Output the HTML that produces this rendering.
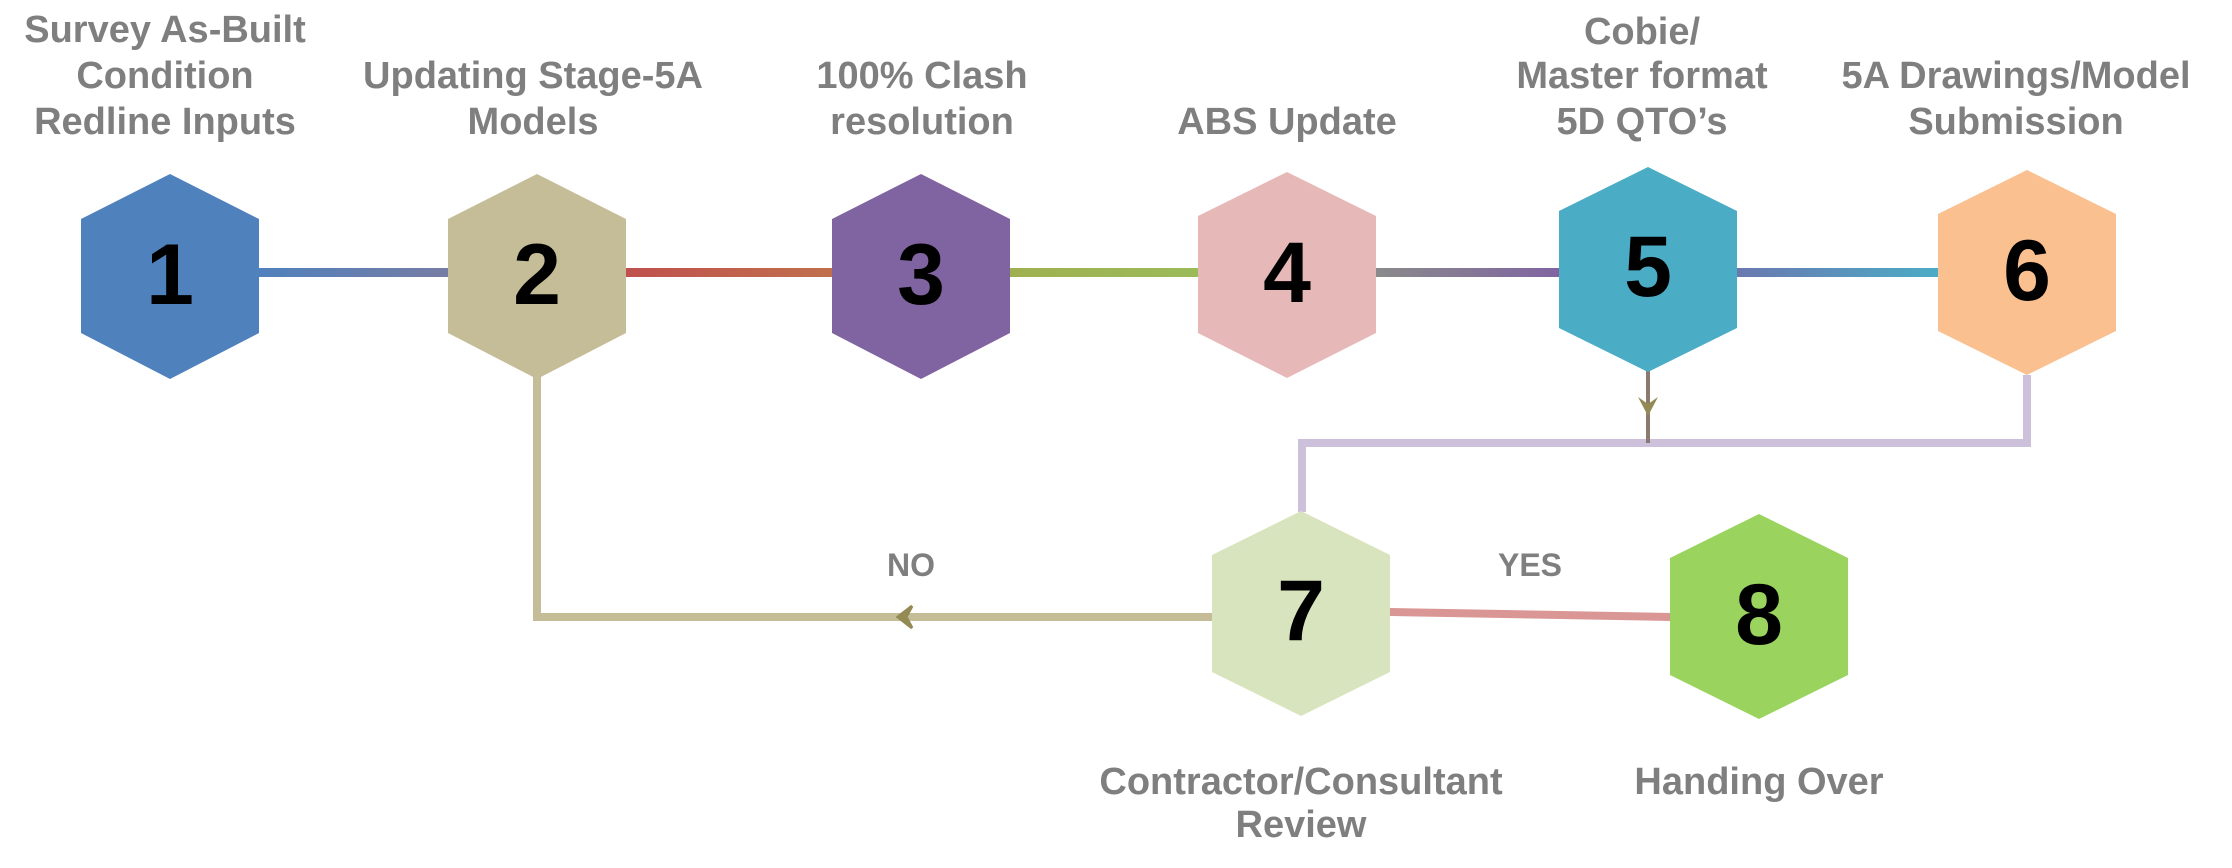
<!DOCTYPE html>
<html><head><meta charset="utf-8"><style>
html,body{margin:0;padding:0;background:#fff;}
svg{display:block;}
text{font-family:"Liberation Sans",sans-serif;font-weight:bold;}
.l{fill:#7f7f7f;font-size:38px;text-anchor:middle;}
.n{fill:#000;font-size:86px;text-anchor:middle;}
</style></head><body>
<svg width="2232" height="868" viewBox="0 0 2232 868" xmlns="http://www.w3.org/2000/svg">
<defs>
<linearGradient id="g12" x1="0" x2="1"><stop offset="0" stop-color="#4f81bd"/><stop offset="1" stop-color="#8a7a98"/></linearGradient>
<linearGradient id="g23" x1="0" x2="1"><stop offset="0" stop-color="#c0504d"/><stop offset="1" stop-color="#c0704d"/></linearGradient>
<linearGradient id="g34" x1="0" x2="1"><stop offset="0" stop-color="#a0b050"/><stop offset="1" stop-color="#9bbb59"/></linearGradient>
<linearGradient id="g45" x1="0" x2="1"><stop offset="0" stop-color="#8a8a8a"/><stop offset="1" stop-color="#8064a2"/></linearGradient>
<linearGradient id="g56" x1="0" x2="1"><stop offset="0" stop-color="#6a78b0"/><stop offset="1" stop-color="#4bacc6"/></linearGradient>
</defs>
<rect x="258" y="268" width="282" height="9" fill="url(#g12)"/>
<rect x="626" y="268" width="210" height="9" fill="url(#g23)"/>
<rect x="1010" y="268" width="190" height="9" fill="url(#g34)"/>
<rect x="1376" y="268" width="185" height="9" fill="url(#g45)"/>
<rect x="1737" y="268" width="203" height="9" fill="url(#g56)"/>
<polyline points="2027,375 2027,443 1302,443 1302,512" fill="none" stroke="#ccc0da" stroke-width="8"/>
<line x1="1648" y1="370" x2="1648" y2="443" stroke="#8a7a70" stroke-width="4"/>
<polygon points="1638,397 1648,404 1658,397 1648,416" fill="#948a54"/>
<polyline points="537,377 537,617 1214,617" fill="none" stroke="#c4bd97" stroke-width="8"/>
<polygon points="912,606 898,617 912,628 906,617" fill="#948a54" stroke="#948a54" stroke-width="3"/>
<polygon points="1390,608 1672,613 1672,621 1390,616" fill="#d99694"/>
<polygon points="170,174 259,219 259,333 170,379 81,333 81,219" fill="#4f81bd"/>
<polygon points="537,174 626,219 626,333 537,379 448,333 448,219" fill="#c4bd97"/>
<polygon points="921,174 1010,219 1010,333 921,379 832,333 832,219" fill="#8064a2"/>
<polygon points="1287,172 1376,216 1376,333 1287,378 1198,333 1198,216" fill="#e6b9b8"/>
<polygon points="1648,167 1737,211 1737,328 1648,372 1559,328 1559,211" fill="#4bacc6"/>
<polygon points="2027,170 2116,214 2116,331 2027,375 1938,331 1938,214" fill="#fac090"/>
<polygon points="1301,511 1390,555 1390,672 1301,716 1212,672 1212,555" fill="#d7e4bd"/>
<polygon points="1759,514 1848,558 1848,675 1759,719 1670,675 1670,558" fill="#9bd35f"/>
<text class="n" x="170" y="304">1</text>
<text class="n" x="537" y="304">2</text>
<text class="n" x="921" y="304">3</text>
<text class="n" x="1287" y="302">4</text>
<text class="n" x="1648" y="296">5</text>
<text class="n" x="2027" y="300">6</text>
<text class="n" x="1301" y="640">7</text>
<text class="n" x="1759" y="644">8</text>
<text class="l" x="165" y="42">Survey As-Built</text>
<text class="l" x="165" y="88">Condition</text>
<text class="l" x="165" y="134">Redline Inputs</text>
<text class="l" x="533" y="88">Updating Stage-5A</text>
<text class="l" x="533" y="134">Models</text>
<text class="l" x="922" y="88">100% Clash</text>
<text class="l" x="922" y="134">resolution</text>
<text class="l" x="1287" y="134">ABS Update</text>
<text class="l" x="1642" y="44">Cobie/</text>
<text class="l" x="1642" y="88">Master format</text>
<text class="l" x="1642" y="134">5D QTO’s</text>
<text class="l" x="2016" y="88">5A Drawings/Model</text>
<text class="l" x="2016" y="134">Submission</text>
<text class="l" x="911" y="576" style="font-size:32px">NO</text>
<text class="l" x="1530" y="576" style="font-size:32px">YES</text>
<text class="l" x="1301" y="794">Contractor/Consultant</text>
<text class="l" x="1301" y="837">Review</text>
<text class="l" x="1759" y="794">Handing Over</text>
</svg>
</body></html>
